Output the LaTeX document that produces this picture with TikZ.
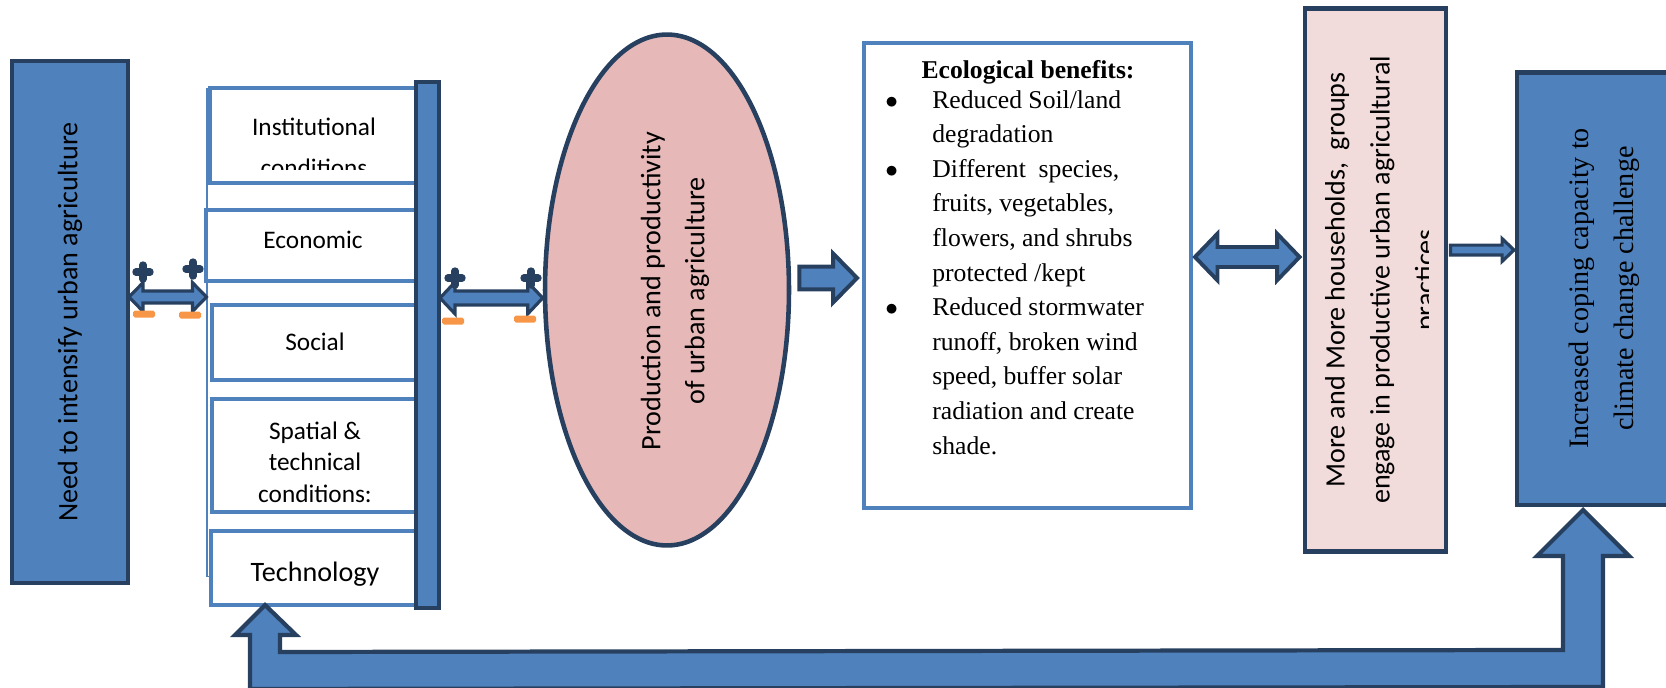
\documentclass[tikz,border=0pt]{standalone}
\usepackage{fontspec}
\setmainfont{Liberation Serif}
\newfontfamily\carlito{Carlito}
\usetikzlibrary{calc}
\usetikzlibrary{shapes.geometric}
\definecolor{accblue}{RGB}{79,129,189}
\definecolor{navyline}{RGB}{39,64,96}
\definecolor{rosefill}{RGB}{230,185,184}
\definecolor{palepink}{RGB}{242,220,219}
\definecolor{minusorange}{RGB}{247,150,70}

% block arrows: [style]{start}{tip}{half shaft}{half head}{head length}
\newcommand{\rightblock}[6][]{%
  \draw[blockarrow,#1] let \p1=(#2), \p2=(#3) in
    (\x1,\y1+#4) -- (\x2-#6,\y1+#4) -- (\x2-#6,\y1+#5) -- (\x2,\y1)
    -- (\x2-#6,\y1-#5) -- (\x2-#6,\y1-#4) -- (\x1,\y1-#4) -- cycle;}
\newcommand{\bothblock}[6][]{%
  \draw[blockarrow,#1] let \p1=(#2), \p2=(#3) in
    (\x1,\y1) -- (\x1+#6,\y1+#5) -- (\x1+#6,\y1+#4) -- (\x2-#6,\y1+#4)
    -- (\x2-#6,\y1+#5) -- (\x2,\y1) -- (\x2-#6,\y1-#5) -- (\x2-#6,\y1-#4)
    -- (\x1+#6,\y1-#4) -- (\x1+#6,\y1-#5) -- cycle;}

\begin{document}
\begin{tikzpicture}[line join=miter,x=0.02cm,y=-0.02cm,
  navybox/.style={draw=navyline,line width=2.6pt,fill=accblue,inner sep=0pt,outer sep=0pt},
  condbox/.style={draw=accblue,line width=2pt,fill=white,inner sep=0pt,outer sep=0pt},
  boxtext/.style={font=\carlito\fontsize{14.4}{17.9}\selectfont,inner sep=0pt},
  blockarrow/.style={draw=navyline,line width=2pt,fill=accblue},
  plusmark/.style={draw=navyline,line width=4.2pt,line cap=round},
  minusmark/.style={fill=minusorange,rounded corners=1pt}]

\clip (0,0) rectangle (1666,687);

\node[navybox,minimum width=2.32cm,minimum height=10.44cm] (need) at (70,322)
  {\carlito\fontsize{16}{19}\selectfont\rotatebox{90}{Need to intensify urban agriculture}};

% conditions column
\node[draw=accblue,line width=0.6pt,fill=white,minimum width=4.18cm,minimum height=9.78cm,inner sep=0pt] (frame) at (311.5,332.5) {};
\node[condbox,minimum width=4.2cm,minimum height=1.9cm] (inst) at (315,135.5) {};
\node[condbox,minimum width=4.28cm,minimum height=1.42cm] (econ) at (313,245.5) {};
\node[condbox,minimum width=4.16cm,minimum height=1.5cm] (social) at (316,342.5) {};
\node[condbox,minimum width=4.16cm,minimum height=2.26cm] (spatial) at (316,455.5) {};
\node[condbox,minimum width=4.18cm,minimum height=1.48cm] (tech) at (315.5,568) {};

\node[boxtext,anchor=base] (insttxt) at (314,135) {Institutional};
\begin{scope}
  \clip (inst.north west) rectangle ($(inst.south east)+(0,-13)$);
  \node[boxtext,anchor=base] (instcut) at (314,176) {conditions};
\end{scope}
\node[boxtext,anchor=base] (econtxt) at (313,248) {Economic};
\node[boxtext,anchor=base] (socialtxt) at (315,350) {Social};
\node[boxtext,align=center] (spatialtxt) at (315,462) {Spatial \&\\technical\\conditions:};
\node[boxtext,font=\carlito\fontsize{16}{19}\selectfont,anchor=base] (techtxt) at (315,581) {Technology};

\node[navybox,line width=2.2pt,minimum width=0.46cm,minimum height=10.52cm] (bar) at (427.5,345) {};

% production
\node[ellipse,draw=navyline,line width=2.6pt,fill=rosefill,minimum width=4.88cm,minimum height=10.22cm,inner sep=0pt] (prod) at (667,290) {};
\node[font=\carlito\fontsize{16}{25}\selectfont,align=center,rotate=90] (prodtxt) at (675,291)
  {Production and productivity\\of urban agriculture};

% ecological benefits
\node[condbox,line width=2.2pt,minimum width=6.54cm,minimum height=9.3cm] (eco) at (1027.5,275.5) {};
\node[anchor=base,inner sep=0pt,font=\fontsize{14.6}{19.7}\selectfont\bfseries] (ecotitle) at (1028,78) {Ecological benefits:};
\node[anchor=base west,inner sep=0pt,font=\fontsize{14.6}{19.7}\selectfont] (ecolist) at (885,108)
  {\begin{tabular}[t]{@{}p{0.94cm}@{}l@{}}
   $\bullet$ & Reduced Soil/land\\
             & degradation\\
   $\bullet$ & Different\ \ species,\\
             & fruits, vegetables,\\
             & flowers, and shrubs\\
             & protected /kept\\
   $\bullet$ & Reduced stormwater\\
             & runoff, broken wind\\
             & speed, buffer solar\\
             & radiation and create\\
             & shade.
   \end{tabular}};

% households
\node[draw=navyline,line width=2.8pt,fill=palepink,minimum width=2.82cm,minimum height=10.88cm,inner sep=0pt] (engage) at (1375.5,280) {};
\begin{scope}
  \clip (engage.north west) rectangle ($(engage.south east)+(-20,0)$);
  \node[font=\carlito\fontsize{16}{25.5}\selectfont,align=center,rotate=90] (engagetxt) at (1382,280)
    {More and More households,\ \ groups\\engage in productive urban agricultural\\practices};
\end{scope}

\node[navybox,line width=2.8pt,minimum width=3.4cm,minimum height=8.66cm] (coping) at (1602,288.5)
  {\fontsize{16}{25.5}\selectfont\rotatebox{90}{\begin{tabular}{@{}c@{}}Increased coping capacity to\\climate change challenge\end{tabular}}};

% arrows
\bothblock[line width=1.8pt]{$(need.east)+(1,-25)$}{frame.west}{3.4pt}{8.2pt}{8pt}
\bothblock[line width=1.8pt]{$(bar.east)+(1,-47)$}{prod.west}{4pt}{9pt}{8.5pt}
\rightblock[line width=2.3pt]{$(prod.east |- eco.west)+(8,2.5)$}{$(eco.west)+(-7,0)$}{6.5pt}{13.9pt}{13.6pt}
\bothblock[line width=2.2pt]{$(eco.east)+(4,-18.5)$}{$(engage.west)+(-3,0)$}{5.7pt}{13.3pt}{12.8pt}
\rightblock[line width=1.8pt]{$(engage.east)+(2,-30)$}{$(coping.west)+(-3,0)$}{2.8pt}{6.5pt}{6.8pt}

\coordinate (loopstart) at ([xshift=-1.01cm]tech.south);
\coordinate (loopend) at ([xshift=-0.38cm,yshift=-0.1cm]coping.south);
\draw[blockarrow,line width=2.4pt] (loopstart) -- ++(31,30) -- ++(-16,0) -- ++(0,17)
  -- ($(loopend)+(-20,140)$) -- ($(loopend)+(-20,46)$) -- ($(loopend)+(-46,46)$) -- (loopend)
  -- ($(loopend)+(46,46)$) -- ($(loopend)+(20,46)$) -- ($(loopend)+(20,177)$)
  -- ($(loopstart)+(-15,84)$) -- ($(loopstart)+(-15,30)$) -- ($(loopstart)+(-30,30)$) -- cycle;

% plus and minus signs
\draw[plusmark] (136,272) -- (150,272) (143,265) -- (143,279);
\draw[plusmark] (186,269) -- (200,269) (193,262) -- (193,276);
\draw[plusmark] (448,278) -- (462,278) (455,271) -- (455,285);
\draw[plusmark] (524,278) -- (538,278) (531,271) -- (531,285);
\fill[minusmark] (133,310.5) rectangle (155,317.5);
\fill[minusmark] (179,311.5) rectangle (201,318.5);
\fill[minusmark] (442,317.5) rectangle (464,324.5);
\fill[minusmark] (514,315.5) rectangle (536,322.5);
\end{tikzpicture}
\end{document}
